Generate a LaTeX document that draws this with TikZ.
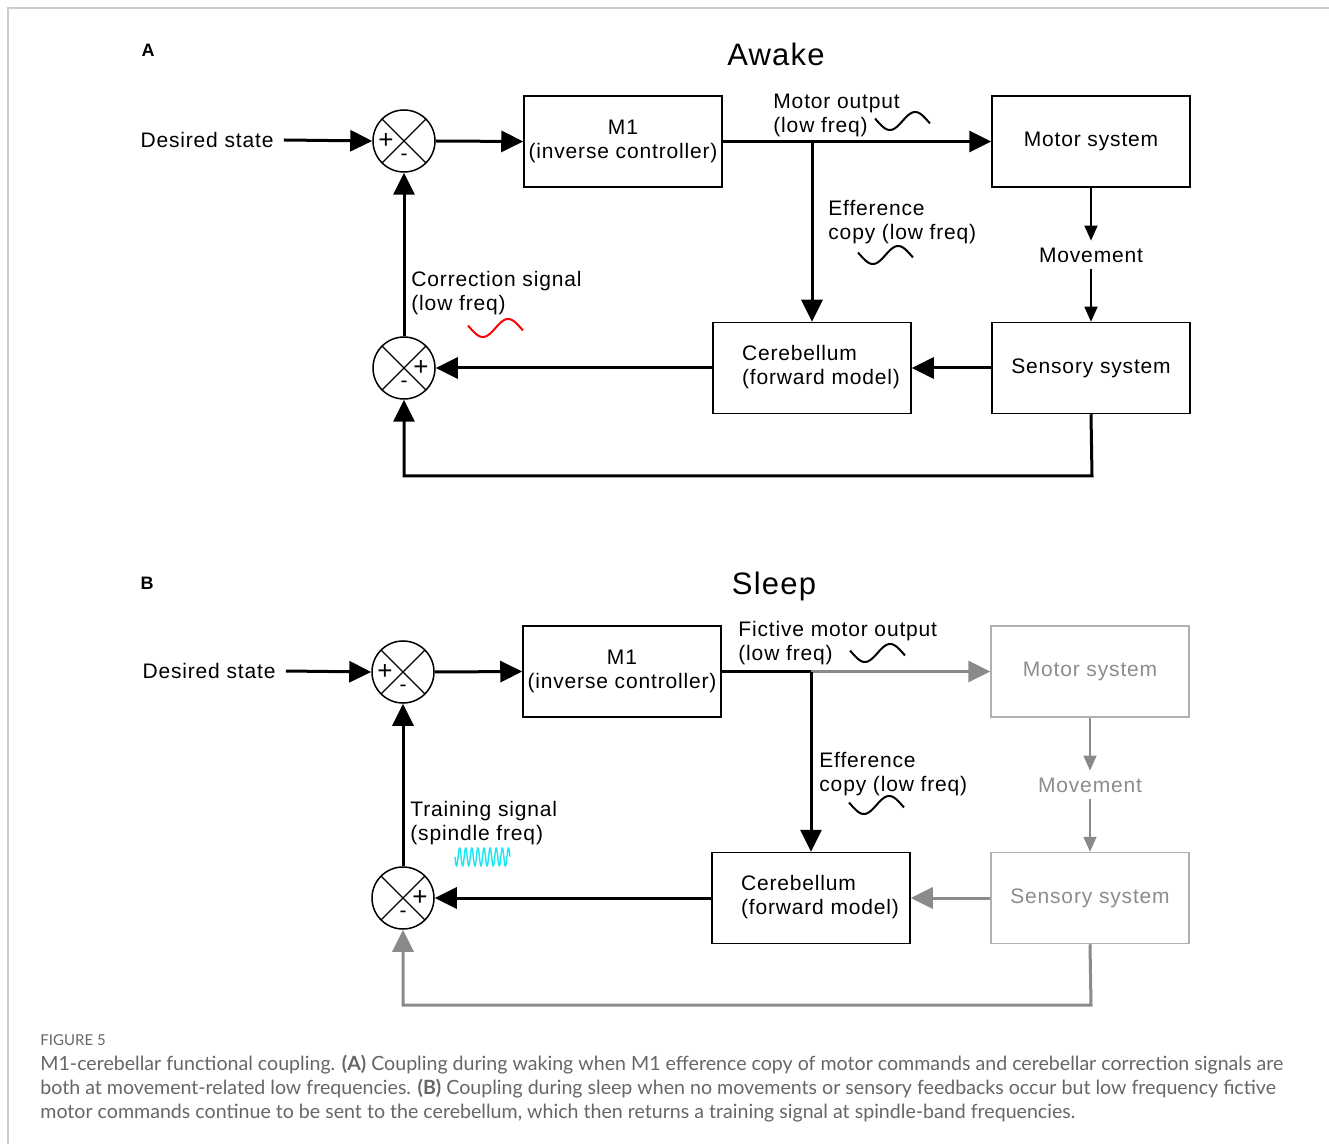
\documentclass[tikz,border=0pt]{standalone}
\usepackage{fontspec}
\setmainfont{Liberation Sans}[LetterSpace=4]
\newfontfamily\capfont{Lato}
\usetikzlibrary{positioning}
\usetikzlibrary{arrows.meta}
\definecolor{faded}{HTML}{8C8C8C}
\definecolor{fadedline}{HTML}{8A8A8A}
\definecolor{fadedbox}{HTML}{B0B0B0}
\definecolor{framegray}{HTML}{CDCDCD}
\definecolor{capgray}{HTML}{666666}
\definecolor{spindle}{HTML}{18E6F0}
\newcommand{\dfont}{\fontsize{10.5}{12}\selectfont}
\newcommand{\lowwave}[3]{\draw[#3, line width=1pt] plot[domain=0:1, samples=50] ({#1+55*\x},{#2+9*sin(360*(\x-0.04)/0.92)});}

\begin{document}
\begin{tikzpicture}[x=0.5pt, y=-0.5pt, font=\dfont,
    box/.style={draw, line width=0.75pt, minimum width=99pt, minimum height=45.5pt, align=center, inner sep=1pt},
    sumnode/.style={draw, circle, line width=0.75pt, minimum size=31pt, inner sep=0pt,
        path picture={\draw[line width=0.6pt] (path picture bounding box.north west) -- (path picture bounding box.south east)
            (path picture bounding box.north east) -- (path picture bounding box.south west);}},
    sign/.style={font=\fontsize{13}{14}\selectfont, inner sep=0pt},
    sig/.style={line width=1.5pt, -{Triangle[length=11pt, width=10.5pt]}},
    thinsig/.style={line width=0.75pt, -{Triangle[length=7.5pt, width=6.5pt]}},
    lbl/.style={align=left, anchor=west, inner sep=0pt},
    capline/.style={lbl, text=capgray, font=\capfont\fontsize{9.8}{11}\selectfont}]
    \useasboundingbox (0,0) rectangle (1329,1144);
    \draw[framegray, line width=0.75pt] (1329,8) -- (8,8) -- (8,1144);

    % panel A
    \node[font=\fontsize{9}{10}\selectfont\bfseries] (tagA) at (148,50) {A};
    \node[font=\fontsize{15.5}{17}\selectfont] (titleA) at (776,54) {Awake};
    \node[inner sep=5pt] (desA) at (207,140) {Desired state};
    \node[sumnode] (sumA1) at (404,141) {};
    \node[sign] (plusA1) at (386,141) {+};
    \node[inner sep=0pt] (minusA1) at (404,157) {-};
    \node[box] (mA) at (623,141.5) {M1\\(inverse controller)};
    \node[box] (motA) at (1091,141.5) {Motor system};
    \node (movA) at (1091,255) {Movement};
    \node[box] (senA) at (1091,368) {Sensory system};
    \node[box] (cbA) at (812,368) {\hspace*{9pt}\begin{tabular}{@{}l@{}}Cerebellum\\(forward model)\end{tabular}};
    \node[sumnode] (sumA2) at (404,368) {};
    \node[sign] (plusA2) at (421,368) {+};
    \node[inner sep=0pt] (minusA2) at (404,384) {-};
    \node[lbl] (outA) at (773,115.5) {Motor output\\(low freq)};
    \node[lbl] (effA) at (828,222.5) {Efference\\copy (low freq)};
    \node[lbl] (corA) at (411,293) {Correction signal\\(low freq)};
    \coordinate (brA) at (812,141.5);
    \coordinate (fbA) at (1092,476);

    \draw[sig] (desA.east) -- (sumA1.west);
    \draw[sig] (sumA1.east) -- (mA.west);
    \draw[sig] (mA.east) -- (motA.west);
    \draw[sig] (brA) -- (cbA.north);
    \draw[thinsig] (motA.south) -- (movA.north);
    \draw[thinsig] (movA.south) -- (senA.north);
    \draw[sig] (senA.west) -- (cbA.east);
    \draw[sig] (cbA.west) -- (sumA2.east);
    \draw[sig] (sumA2.north) -- (sumA1.south);
    \draw[sig] (senA.south) -- (fbA) -| (sumA2.south);
    \lowwave{875}{121}{black}
    \lowwave{858}{255}{black}
    \lowwave{468}{328}{red}

    % panel B
    \node[font=\fontsize{9}{10}\selectfont\bfseries] (tagB) at (147,583) {B};
    \node[font=\fontsize{15.5}{17}\selectfont] (titleB) at (774,586) {Sleep};
    \node[inner sep=5pt] (desB) at (209,671) {Desired state};
    \node[sumnode] (sumB1) at (403,672) {};
    \node[sign] (plusB1) at (385,672) {+};
    \node[inner sep=0pt] (minusB1) at (403,688) {-};
    \node[box] (mB) at (622,671.5) {M1\\(inverse controller)};
    \node[box, draw=fadedbox, text=faded] (motB) at (1090,671.5) {Motor system};
    \node[text=faded] (movB) at (1090,785) {Movement};
    \node[box, draw=fadedbox, text=faded] (senB) at (1090,898) {Sensory system};
    \node[box] (cbB) at (811,898) {\hspace*{9pt}\begin{tabular}{@{}l@{}}Cerebellum\\(forward model)\end{tabular}};
    \node[sumnode] (sumB2) at (403,898) {};
    \node[sign] (plusB2) at (420,898) {+};
    \node[inner sep=0pt] (minusB2) at (403,914) {-};
    \node[lbl] (outB) at (738,643.5) {Fictive motor output\\(low freq)};
    \node[lbl] (effB) at (819,774) {Efference\\copy (low freq)};
    \node[lbl] (trnB) at (410,823) {Training signal\\(spindle freq)};
    \coordinate (brB) at (811,671.5);
    \coordinate (fbB) at (1091,1005);

    \draw[sig] (desB.east) -- (sumB1.west);
    \draw[sig] (sumB1.east) -- (mB.west);
    \draw[line width=1.5pt] (mB.east) -- (brB);
    \draw[sig, fadedline] (brB) -- (motB.west);
    \draw[sig] (brB) -- (cbB.north);
    \draw[thinsig, fadedline] (motB.south) -- (movB.north);
    \draw[thinsig, fadedline] (movB.south) -- (senB.north);
    \draw[sig, fadedline] (senB.west) -- (cbB.east);
    \draw[sig] (cbB.west) -- (sumB2.east);
    \draw[sig] (sumB2.north) -- (sumB1.south);
    \draw[sig, fadedline] (senB.south) -- (fbB) -| (sumB2.south);
    \lowwave{850}{653}{black}
    \lowwave{849}{805}{black}
    \draw[spindle, line width=0.7pt] plot[domain=0:1, samples=220] ({455+55*\x},{857+9*sin(360*9*\x)});

    % caption
    \node[lbl, text=capgray, font=\capfont\fontsize{7.5}{9}\selectfont] (capHead) at (40,1040) {FIGURE 5};
    \node[capline] (capL1) at (40,1065)
        {M1-cerebellar functional coupling. \textbf{(A)} Coupling during waking when M1 efference copy of motor commands and cerebellar correction signals are};
    \node[capline] (capL2) at (40,1089)
        {both at movement-related low frequencies. \textbf{(B)} Coupling during sleep when no movements or sensory feedbacks occur but low frequency fictive};
    \node[capline] (capL3) at (40,1113)
        {motor commands continue to be sent to the cerebellum, which then returns a training signal at spindle-band frequencies.};
\end{tikzpicture}
\end{document}
